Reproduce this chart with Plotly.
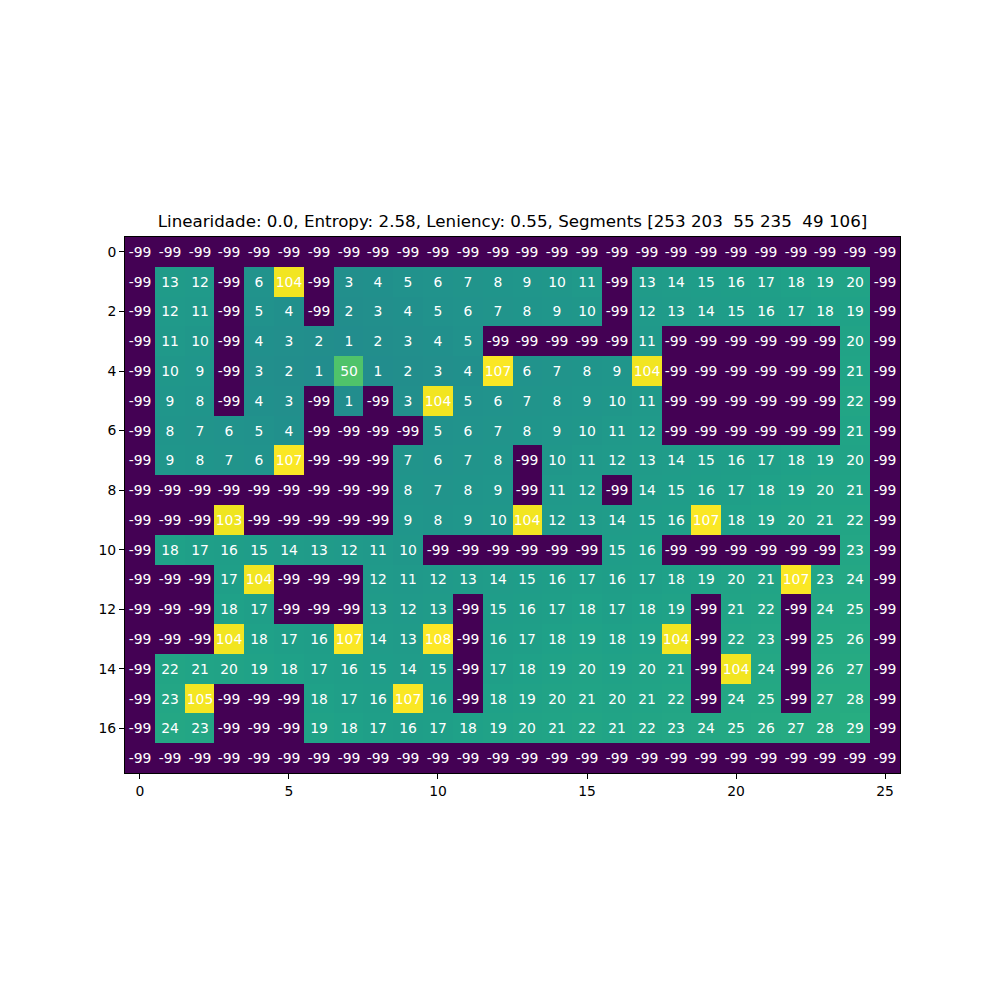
import plotly.graph_objects as go

N = -99
rows = [
    [N]*26,
    [N,13,12,N,6,104,N,3,4,5,6,7,8,9,10,11,N,13,14,15,16,17,18,19,20,N],
    [N,12,11,N,5,4,N,2,3,4,5,6,7,8,9,10,N,12,13,14,15,16,17,18,19,N],
    [N,11,10,N,4,3,2,1,2,3,4,5,N,N,N,N,N,11,N,N,N,N,N,N,20,N],
    [N,10,9,N,3,2,1,50,1,2,3,4,107,6,7,8,9,104,N,N,N,N,N,N,21,N],
    [N,9,8,N,4,3,N,1,N,3,104,5,6,7,8,9,10,11,N,N,N,N,N,N,22,N],
    [N,8,7,6,5,4,N,N,N,N,5,6,7,8,9,10,11,12,N,N,N,N,N,N,21,N],
    [N,9,8,7,6,107,N,N,N,7,6,7,8,N,10,11,12,13,14,15,16,17,18,19,20,N],
    [N,N,N,N,N,N,N,N,N,8,7,8,9,N,11,12,N,14,15,16,17,18,19,20,21,N],
    [N,N,N,103,N,N,N,N,N,9,8,9,10,104,12,13,14,15,16,107,18,19,20,21,22,N],
    [N,18,17,16,15,14,13,12,11,10,N,N,N,N,N,N,15,16,N,N,N,N,N,N,23,N],
    [N,N,N,17,104,N,N,N,12,11,12,13,14,15,16,17,16,17,18,19,20,21,107,23,24,N],
    [N,N,N,18,17,N,N,N,13,12,13,N,15,16,17,18,17,18,19,N,21,22,N,24,25,N],
    [N,N,N,104,18,17,16,107,14,13,108,N,16,17,18,19,18,19,104,N,22,23,N,25,26,N],
    [N,22,21,20,19,18,17,16,15,14,15,N,17,18,19,20,19,20,21,N,104,24,N,26,27,N],
    [N,23,105,N,N,N,18,17,16,107,16,N,18,19,20,21,20,21,22,N,24,25,N,27,28,N],
    [N,24,23,N,N,N,19,18,17,16,17,18,19,20,21,22,21,22,23,24,25,26,27,28,29,N],
    [N]*26,
]
title = "Linearidade: 0.0, Entropy: 2.58, Leniency: 0.55, Segments [253 203  55 235  49 106]"
x_ticks = [0, 5, 10, 15, 20, 25]
y_ticks = [0, 2, 4, 6, 8, 10, 12, 14, 16]

viridis = [
    [0.0, "#440154"], [0.0625, "#48186a"], [0.125, "#472d7b"], [0.1875, "#424086"],
    [0.25, "#3b528b"], [0.3125, "#33638d"], [0.375, "#2c728e"], [0.4375, "#26828e"],
    [0.5, "#21918c"], [0.5625, "#1fa088"], [0.625, "#28ae80"], [0.6875, "#3fbc73"],
    [0.75, "#5ec962"], [0.8125, "#84d44b"], [0.875, "#addc30"], [0.9375, "#d8e219"],
    [1.0, "#fde725"],
]

text = [[str(v) for v in r] for r in rows]

# page body has an 8px margin; figure is sized to fill the 1000px window from there
W, H = 992, 992
fig = go.Figure(go.Heatmap(
    z=rows,
    x=list(range(26)),
    y=list(range(18)),
    text=text,
    colorscale=viridis,
    zmin=min(min(r) for r in rows),
    zmax=max(max(r) for r in rows),
    showscale=False,
    texttemplate="%{text}",
    textfont=dict(color="white", size=13.9, family="DejaVu Sans"),
    hoverinfo="z",
))

fig.update_layout(
    width=W, height=H,
    paper_bgcolor="white", plot_bgcolor="white",
    margin=dict(l=117, r=100, t=229, b=227, autoexpand=False),
    font=dict(family="DejaVu Sans", size=13.9, color="black"),
    title=dict(text=title, x=(512.5 - 8) / W, xanchor="center", y=1 - 213 / H, yanchor="middle",
               font=dict(size=16.7, family="DejaVu Sans", color="black")),
    showlegend=False,
)
fig.update_xaxes(range=[-0.5, 25.5], tickvals=x_ticks, ticks="outside", ticklen=5,
                 tickcolor="black", showline=True, linecolor="black", linewidth=1,
                 mirror=True, showgrid=False, zeroline=False,
                 tickfont=dict(size=13.9, color="black"))
fig.update_yaxes(range=[17.5, -0.5], tickvals=y_ticks, ticks="outside", ticklen=5,
                 tickcolor="black", showline=True, linecolor="black", linewidth=1,
                 mirror=True, showgrid=False, zeroline=False,
                 tickfont=dict(size=13.9, color="black"))

fig.write_html("out.html")
